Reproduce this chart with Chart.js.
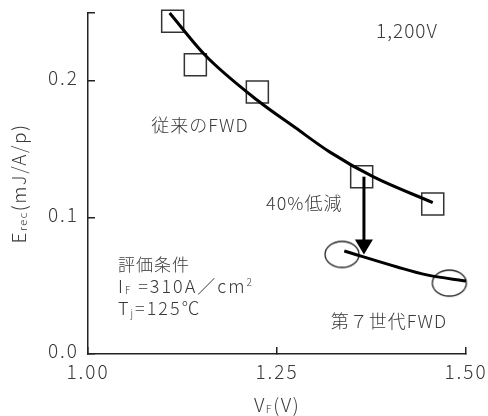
<!DOCTYPE html>
<html>
<head>
<meta charset="utf-8">
<script src="https://cdn.jsdelivr.net/npm/chart.js@4.4.0/dist/chart.umd.min.js"></script>
<style>
  html, body { margin: 0; padding: 0; background: #fff; }
  #wrap { width: 488px; height: 416px; }
</style>
</head>
<body>
<div id="wrap"><canvas id="c"></canvas></div>
<script>
const FONT = "'Noto Sans CJK JP', 'Noto Sans', sans-serif";
const WEIGHT = 300;
const INK = '#3a3a3a';

// Forward voltage VF (V) vs. reverse-recovery loss Erec (mJ/A/pulse)
const convVF   = [1.112, 1.142, 1.224, 1.362, 1.456];
const convErec = [0.244, 0.212, 0.192, 0.130, 0.110];
const gen7VF   = [1.336, 1.478];
const gen7Erec = [0.073, 0.052];

// Trend curves through each device family
const convFitVF   = [1.108, 1.155, 1.224, 1.274, 1.320, 1.377, 1.456];
const convFitErec = [0.250, 0.219, 0.186, 0.166, 0.148, 0.130, 0.111];
const gen7FitVF   = [1.339, 1.409, 1.448, 1.500];
const gen7FitErec = [0.0755, 0.0638, 0.058, 0.0535];

// Axis ticks (0.25 is an unlabeled end tick)
const xTicks = [1.00, 1.25, 1.50];
const yTicks = [0.0, 0.1, 0.2, 0.25];
const yLabeled = [0.0, 0.1, 0.2];

// 40% reduction arrow at VF = 1.365 V
const arrowVF = 1.365;
const arrowFrom = 0.130;
const arrowTo = 0.073;

const toXY = (xs, ys) => xs.map((v, i) => ({ x: v, y: ys[i] }));

function ellipseMarker(w, h, lw) {
  const c = document.createElement('canvas');
  c.width = w + 4; c.height = h + 4;
  const g = c.getContext('2d');
  g.strokeStyle = '#222'; g.lineWidth = lw;
  g.beginPath();
  g.ellipse(c.width / 2, c.height / 2, w / 2, h / 2, 0, 0, Math.PI * 2);
  g.stroke();
  return c;
}

// Draws a run of text pieces of mixed size (for subscripts / superscripts)
function rich(ctx, parts, x, y, align) {
  let total = 0;
  for (const p of parts) {
    ctx.font = `${WEIGHT} ${p[1]}px ${FONT}`;
    total += ctx.measureText(p[0]).width;
  }
  let cx = align === 'center' ? x - total / 2 : x;
  for (const p of parts) {
    ctx.font = `${WEIGHT} ${p[1]}px ${FONT}`;
    ctx.fillText(p[0], cx, y + (p[2] || 0));
    cx += ctx.measureText(p[0]).width;
  }
}

const spacing = {
  id: 'spacing',
  beforeDraw(chart) { chart.ctx.letterSpacing = '2px'; }
};

const notes = {
  id: 'notes',
  afterDatasetsDraw(chart) {
    const { ctx, scales: { x, y } } = chart;
    ctx.save();

    // reduction arrow
    const ax = x.getPixelForValue(arrowVF);
    const y0 = y.getPixelForValue(arrowFrom);
    const y1 = y.getPixelForValue(arrowTo);
    ctx.strokeStyle = '#000';
    ctx.lineWidth = 3;
    ctx.beginPath();
    ctx.moveTo(ax, y0);
    ctx.lineTo(ax, y1 - 13);
    ctx.stroke();
    ctx.fillStyle = '#000';
    ctx.beginPath();
    ctx.moveTo(ax - 9, y1 - 15);
    ctx.lineTo(ax + 9, y1 - 15);
    ctx.lineTo(ax, y1);
    ctx.closePath();
    ctx.fill();

    // labels
    ctx.fillStyle = INK;
    ctx.textBaseline = 'alphabetic';
    const px = v => x.getPixelForValue(v);

    ctx.letterSpacing = '1px';
    rich(ctx, [['1,200V', 19]], px(1.422), 38, 'center');
    rich(ctx, [['従来のFWD', 18]], px(1.148), 132, 'center');
    rich(ctx, [['40%低減', 18]], px(1.286), 210, 'center');
    rich(ctx, [['評価条件', 17]], px(1.0397), 271, 'left');
    ctx.letterSpacing = '2px';
    rich(ctx, [['I', 18], ['F', 10, 1], [' =310A／cm', 18], ['2', 10, -7]], px(1.0397), 293, 'left');
    rich(ctx, [['T', 18], ['j', 10, 2], ['=125℃', 18]], px(1.0397), 315, 'left');
    ctx.letterSpacing = '1px';
    rich(ctx, [['第７世代FWD', 18]], px(1.398), 328, 'center');

    // axis titles
    ctx.letterSpacing = '1.5px';
    rich(ctx, [['V', 19], ['F', 11, 1], ['(V)', 19]], px(1.25), 412, 'center');
    const mid = (chart.chartArea.top + chart.chartArea.bottom) / 2;
    ctx.translate(26, mid);
    ctx.rotate(-Math.PI / 2);
    rich(ctx, [['E', 19], ['rec', 11, 1], ['(mJ/A/p)', 19]], 0, 0, 'center');

    ctx.restore();
  }
};

new Chart(document.getElementById('c'), {
  type: 'scatter',
  data: {
    datasets: [
      {
        data: toXY(convFitVF, convFitErec),
        showLine: true, borderColor: '#000', borderWidth: 3,
        pointRadius: 0, cubicInterpolationMode: 'monotone', fill: false, clip: false
      },
      {
        data: toXY(gen7FitVF, gen7FitErec),
        showLine: true, borderColor: '#000', borderWidth: 3,
        pointRadius: 0, cubicInterpolationMode: 'monotone', fill: false, clip: false
      },
      {
        data: toXY(convVF, convErec),
        pointStyle: 'rect', pointRadius: 15.56,
        borderColor: '#333', borderWidth: 1.5, backgroundColor: 'rgba(0,0,0,0)', clip: false
      },
      {
        data: toXY(gen7VF, gen7Erec),
        pointStyle: ellipseMarker(34, 26, 1.3), pointRadius: 14,
        borderColor: '#333', backgroundColor: 'rgba(0,0,0,0)', clip: false
      }
    ]
  },
  options: {
    responsive: true,
    maintainAspectRatio: false,
    animation: false,
    layout: { autoPadding: false, padding: { top: 13, right: 22, left: 0, bottom: 0 } },
    plugins: { legend: { display: false }, tooltip: { enabled: false } },
    scales: {
      x: {
        type: 'linear', min: 1.0, max: 1.5,
        afterBuildTicks: s => { s.ticks = xTicks.map(v => ({ value: v })); },
        afterFit: s => { s.height = 62; s.paddingLeft = 0; s.paddingRight = 0; },
        ticks: {
          callback: v => v.toFixed(2),
          font: { family: FONT, size: 19, weight: WEIGHT }, color: INK,
          padding: 13, maxRotation: 0, autoSkip: false
        },
        grid: { drawOnChartArea: false, tickLength: -7, color: '#222', lineWidth: 1.5 },
        border: { color: '#222', width: 1.5 }
      },
      y: {
        type: 'linear', min: 0, max: 0.25,
        afterBuildTicks: s => { s.ticks = yTicks.map(v => ({ value: v })); },
        afterFit: s => { s.width = 88; s.paddingTop = 0; s.paddingBottom = 0; },
        ticks: {
          callback: v => (yLabeled.includes(v) ? v.toFixed(1) : ''),
          font: { family: FONT, size: 19, weight: WEIGHT }, color: INK,
          padding: 16, autoSkip: false, labelOffset: -3
        },
        grid: { drawOnChartArea: false, tickLength: -7, color: '#222', lineWidth: 1.5 },
        border: { color: '#222', width: 1.5 }
      }
    }
  },
  plugins: [spacing, notes]
});
</script>
</body>
</html>
